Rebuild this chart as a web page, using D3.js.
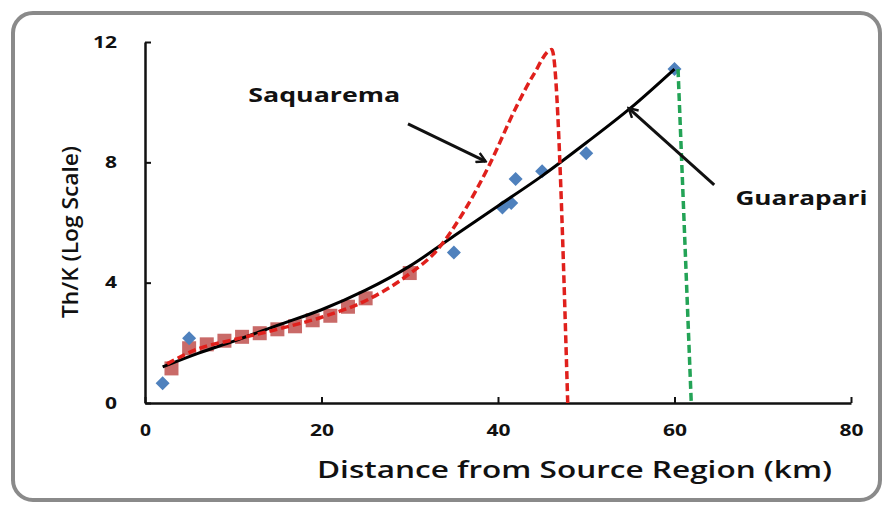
<!DOCTYPE html>
<html>
<head>
<meta charset="utf-8">
<script src="https://cdn.jsdelivr.net/npm/d3@7"></script>
<style>
  body { margin: 0; background: #fff; }
  text { font-family: 'Open Sans', 'DejaVu Sans', sans-serif; fill: #111; }
</style>
</head>
<body>
<div id="chart"></div>
<script>
// Guarapari samples (blue diamonds)
const guarapariX = [2, 5, 35, 40.5, 41.5, 42, 45, 50, 60];
const guarapariY = [0.66, 2.15, 5.0, 6.5, 6.65, 7.45, 7.7, 8.3, 11.1];

// Saquarema samples (red squares)
const saquaremaX = [3, 5, 7, 9, 11, 13, 15, 17, 19, 21, 23, 25, 30];
const saquaremaY = [1.15, 1.82, 1.95, 2.07, 2.2, 2.32, 2.45, 2.55, 2.75, 2.9, 3.2, 3.48, 4.32];

// Guarapari trend (black solid)
const guarapariFitX = [2, 6, 10, 15, 20, 25, 30, 35, 40, 45, 50, 55, 60];
const guarapariFitY = [1.2, 1.65, 2.05, 2.58, 3.1, 3.75, 4.55, 5.55, 6.55, 7.55, 8.65, 9.8, 11.1];

// Saquarema trend (red dashed) and drop-off
const saquaremaFitX = [2.5, 6, 10, 15, 20, 25, 30, 33, 36, 39, 42, 44, 46.1, 47.9];
const saquaremaFitY = [1.3, 1.8, 2.1, 2.45, 2.85, 3.4, 4.3, 5.05, 6.3, 7.9, 9.8, 10.9, 11.75, 0];

// Guarapari drop-off (green dashed)
const guarapariCutX = [60.4, 61.9];
const guarapariCutY = [11.1, 0];

const xTicks = [0, 20, 40, 60, 80];
const yTicks = [0, 4, 8, 12];

const width = 889, height = 509;
const margin = { top: 42, right: 38, bottom: 106, left: 145 };

const x = d3.scaleLinear().domain([0, 80]).range([margin.left, width - margin.right]);
const y = d3.scaleLinear().domain([0, 12]).range([height - margin.bottom, margin.top]);

const svg = d3.select('#chart').append('svg')
    .attr('width', width)
    .attr('height', height);

// rounded frame
svg.append('rect')
    .attr('x', 13).attr('y', 13)
    .attr('width', 867).attr('height', 487)
    .attr('rx', 20)
    .attr('fill', 'none')
    .attr('stroke', '#8a8a8a')
    .attr('stroke-width', 4);

const defs = svg.append('defs');
defs.append('marker')
    .attr('id', 'arrow')
    .attr('viewBox', '0 0 12 12')
    .attr('refX', 10).attr('refY', 6)
    .attr('markerWidth', 12).attr('markerHeight', 12)
    .attr('markerUnits', 'userSpaceOnUse')
    .attr('orient', 'auto')
  .append('path')
    .attr('d', 'M1,1 L10,6 L1,11')
    .attr('fill', 'none')
    .attr('stroke', '#111')
    .attr('stroke-width', 2.4);

// axes
const xAxis = svg.append('g')
    .attr('transform', 'translate(0,' + y(0) + ')')
    .call(d3.axisBottom(x).tickValues(xTicks).tickSizeInner(-6).tickSizeOuter(0).tickPadding(22));

const yAxis = svg.append('g')
    .attr('transform', 'translate(' + x(0) + ',0)')
    .call(d3.axisLeft(y).tickValues(yTicks).tickSizeInner(-6).tickSizeOuter(0).tickPadding(28));

[xAxis, yAxis].forEach(a => {
  a.select('.domain').attr('stroke', '#111').attr('stroke-width', 2.5);
  a.selectAll('.tick line').attr('stroke', '#111').attr('stroke-width', 2);
  a.selectAll('.tick text')
      .style('font-family', "'Open Sans', sans-serif")
      .style('font-size', '16px')
      .style('font-weight', 'bold')
      .attr('fill', '#222');
});
xAxis.selectAll('.tick text').attr('textLength', d => d === 0 ? 11 : 24).attr('lengthAdjust', 'spacingAndGlyphs');
yAxis.selectAll('.tick text').attr('textLength', d => d >= 10 ? 24 : 12).attr('lengthAdjust', 'spacingAndGlyphs');

// axis titles
svg.append('text')
    .attr('x', 317).attr('y', 478)
    .attr('textLength', 515).attr('lengthAdjust', 'spacingAndGlyphs')
    .style('font-size', '23px').style('font-weight', 600)
    .text('Distance from Source Region (km)');

svg.append('text')
    .attr('transform', 'translate(78,232) rotate(-90)')
    .attr('text-anchor', 'middle')
    .attr('textLength', 172).attr('lengthAdjust', 'spacingAndGlyphs')
    .style('font-size', '21px').style('font-weight', 600)
    .text('Th/K (Log Scale)');

const pts = (xs, ys) => xs.map((v, i) => [v, ys[i]]);
const line = d3.line().x(d => x(d[0])).y(d => y(d[1]));

// markers
svg.append('g').selectAll('rect')
    .data(pts(saquaremaX, saquaremaY))
  .enter().append('rect')
    .attr('x', d => x(d[0]) - 7)
    .attr('y', d => y(d[1]) - 7)
    .attr('width', 14).attr('height', 14)
    .attr('fill', '#c0504d')
    .attr('opacity', 0.85);

svg.append('g').selectAll('path')
    .data(pts(guarapariX, guarapariY))
  .enter().append('path')
    .attr('transform', d => 'translate(' + x(d[0]) + ',' + y(d[1]) + ')')
    .attr('d', 'M0,-7 L7,0 L0,7 L-7,0 Z')
    .attr('fill', '#4f81bd');

// trend lines
svg.append('path')
    .datum(pts(guarapariCutX, guarapariCutY))
    .attr('d', line)
    .attr('fill', 'none')
    .attr('stroke', '#23a356')
    .attr('stroke-width', 3.5)
    .attr('stroke-dasharray', '8,4');

svg.append('path')
    .datum(pts(guarapariFitX, guarapariFitY))
    .attr('d', line.curve(d3.curveMonotoneX))
    .attr('fill', 'none')
    .attr('stroke', '#000')
    .attr('stroke-width', 3);

svg.append('path')
    .datum(pts(saquaremaFitX, saquaremaFitY))
    .attr('d', line.curve(d3.curveMonotoneX))
    .attr('fill', 'none')
    .attr('stroke', '#e0201c')
    .attr('stroke-width', 3.5)
    .attr('stroke-dasharray', '8,4');

// annotations
const labels = [
  { name: 'Saquarema', tx: 11.7, ty: 10.0, len: 152, from: [29.8, 9.28], to: [38.6, 8.03] },
  { name: 'Guarapari', tx: 66.9, ty: 6.58, len: 132, from: [64.5, 7.25], to: [54.8, 9.8] }
];

svg.append('g').selectAll('line')
    .data(labels)
  .enter().append('line')
    .attr('x1', d => x(d.from[0])).attr('y1', d => y(d.from[1]))
    .attr('x2', d => x(d.to[0])).attr('y2', d => y(d.to[1]))
    .attr('stroke', '#111')
    .attr('stroke-width', 3)
    .attr('marker-end', 'url(#arrow)');

svg.append('g').selectAll('text')
    .data(labels)
  .enter().append('text')
    .attr('x', d => x(d.tx)).attr('y', d => y(d.ty))
    .attr('textLength', d => d.len).attr('lengthAdjust', 'spacingAndGlyphs')
    .style('font-size', '20px').style('font-weight', 'bold')
    .text(d => d.name);
</script>
</body>
</html>
